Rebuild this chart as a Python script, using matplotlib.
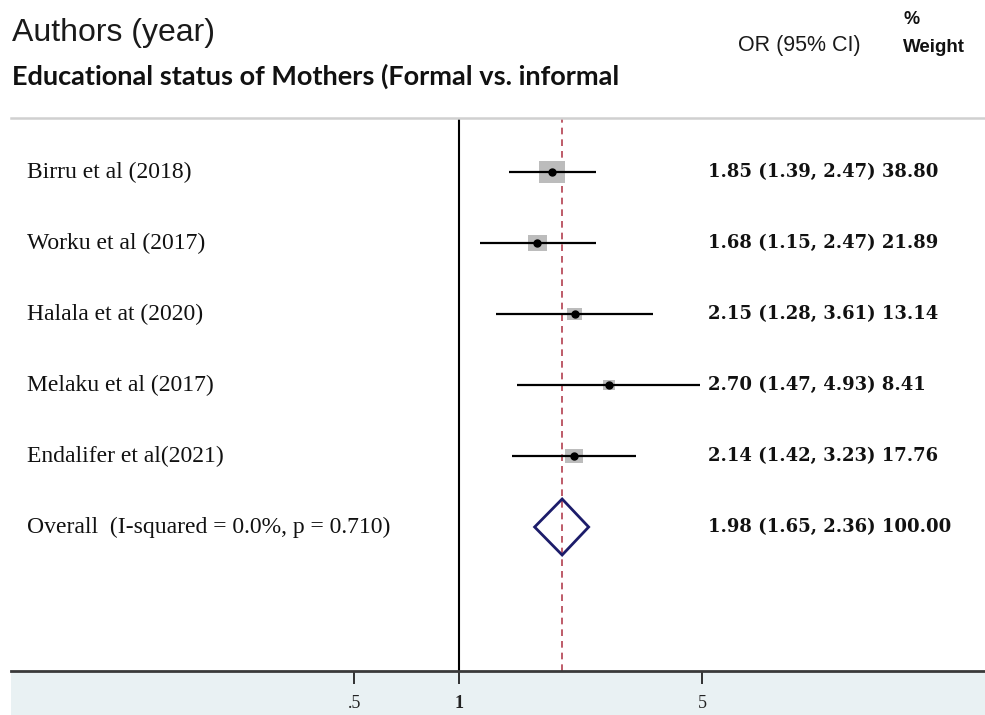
import numpy as np
import matplotlib
matplotlib.use("Agg")
import matplotlib.pyplot as plt
from matplotlib.patches import Polygon, Rectangle
from matplotlib.transforms import blended_transform_factory

# Estudios incluidos y resultados (OR con IC 95%, peso %)
estudios = ["Birru et al (2018)", "Worku et al (2017)", "Halala et at (2020)",
            "Melaku et al (2017)", "Endalifer et al(2021)"]
or_est = [1.85, 1.68, 2.15, 2.70, 2.14]
ic_inf = [1.39, 1.15, 1.28, 1.47, 1.42]
ic_sup = [2.47, 2.47, 3.61, 4.93, 3.23]
peso = [38.80, 21.89, 13.14, 8.41, 17.76]

global_est, global_inf, global_sup = 1.98, 1.65, 2.36
etiqueta_global = "Overall  (I-squared = 0.0%, p = 0.710)"

ticks = [0.5, 1, 5]
tick_labels = [".5", "1", "5"]

W, H = 985, 715
fig = plt.figure(figsize=(W / 100, H / 100), dpi=100)

def fx(px):
    return px / W

def fy(py):
    return 1 - py / H

# escala: 151 px por unidad de log, OR=1 en x=459
x0, escala = 459, 151.0
ax_izq, ax_der, ax_sup, ax_inf = 11, 985, 118, 671
ax = fig.add_axes([fx(ax_izq), fy(ax_inf), fx(ax_der - ax_izq), (ax_inf - ax_sup) / H])
ax.set_xscale("log")
ax.set_xlim(np.exp((ax_izq - x0) / escala), np.exp((ax_der - x0) / escala))

fila0, paso = 172, 71.0
ax.set_ylim((ax_inf - fila0) / paso, -(fila0 - ax_sup) / paso)

# franja inferior del eje
fig.add_artist(Rectangle((fx(ax_izq), 0), fx(ax_der - ax_izq), fy(ax_inf),
                         transform=fig.transFigure, facecolor="#e9f1f3", edgecolor="none", zorder=0))

for s in ["left", "right"]:
    ax.spines[s].set_visible(False)
ax.spines["top"].set_color("#d0d0d0")
ax.spines["top"].set_linewidth(1.8)
ax.spines["bottom"].set_color("#3a3a3a")
ax.spines["bottom"].set_linewidth(2.0)
ax.patch.set_alpha(0)

ax.set_yticks([])
ax.set_xticks(ticks)
ax.set_xticklabels(tick_labels)
ax.xaxis.set_minor_locator(matplotlib.ticker.NullLocator())
ax.tick_params(axis="x", direction="out", length=9, width=1.3, pad=8, colors="#222222")
for lab in ax.get_xticklabels():
    lab.set_fontfamily("Liberation Serif")
    lab.set_fontsize(13)
ax.get_xticklabels()[1].set_fontweight("bold")

ax.axvline(1, color="black", lw=1.5, zorder=2)
ax.axvline(global_est, color="#b3404f", lw=1.2, ls=(0, (4, 3)), zorder=2)

filas = np.arange(len(estudios))
marca = [(-1, -0.85), (1, -0.85), (1, 0.85), (-1, 0.85), (-1, -0.85)]
ax.scatter(or_est, filas, s=np.array(peso) * 9.0, marker=marca, color="#bcbcbc",
           edgecolors="none", zorder=3)
ax.hlines(filas, ic_inf, ic_sup, color="black", lw=1.6, zorder=4)
ax.plot(or_est, filas, "o", color="black", ms=5, zorder=5)

yg = len(estudios)
h = 28 / paso
rombo = Polygon([(global_inf, yg), (global_est, yg - h), (global_sup, yg), (global_est, yg + h)],
                closed=True, fill=False, edgecolor="#1c1c6a", lw=2, zorder=5)
ax.add_patch(rombo)

# textos de cada fila
tr = blended_transform_factory(fig.transFigure, ax.transData)
for i, nombre in enumerate(estudios + [etiqueta_global]):
    ax.text(fx(27), i, nombre, transform=tr, ha="left", va="center",
            fontfamily="Liberation Serif", fontsize=17, color="#111111")

res = [f"{o:.2f} ({a:.2f}, {b:.2f}) {p:.2f}" for o, a, b, p in zip(or_est, ic_inf, ic_sup, peso)]
res.append(f"{global_est:.2f} ({global_inf:.2f}, {global_sup:.2f}) {100:.2f}")
for i, t in enumerate(res):
    ax.text(fx(708), i, t, transform=tr, ha="left", va="center",
            fontfamily="DejaVu Serif", fontweight="bold", fontsize=13, color="#111111")

# encabezados
fig.text(fx(12), fy(33), "Authors (year)", ha="left", va="center",
         fontfamily="Liberation Sans", fontsize=23, color="#1a1a1a")
fig.text(fx(738), fy(46), "OR (95% CI)", ha="left", va="center",
         fontfamily="Liberation Sans", fontsize=15.5, color="#1a1a1a")
fig.text(fx(903), fy(20), "%", ha="left", va="center",
         fontfamily="Liberation Sans", fontweight="bold", fontsize=13, color="#111111")
fig.text(fx(903), fy(47), "Weight", ha="left", va="center",
         fontfamily="Liberation Sans", fontweight="bold", fontsize=13.5, color="#111111")
fig.text(fx(12), fy(76), "Educational status of Mothers (Formal vs. informal", ha="left", va="center",
         fontfamily="Lato", fontweight="bold", fontsize=19.5, color="#111111")

fig.savefig("out.png", dpi=100)
